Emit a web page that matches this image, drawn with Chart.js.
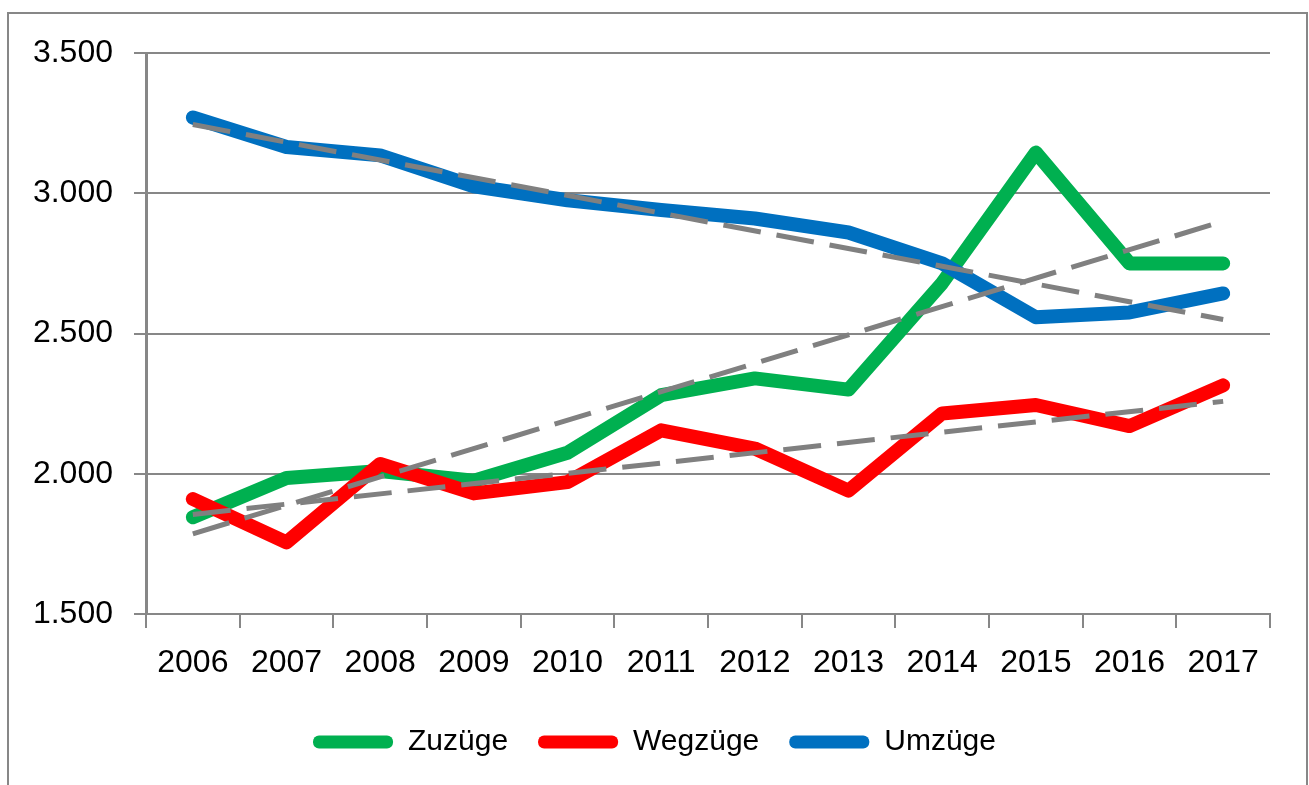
<!DOCTYPE html>
<html>
<head>
<meta charset="utf-8">
<script src="https://cdn.jsdelivr.net/npm/chart.js@4"></script>
<style>
  body { margin: 0; background: #fff; }
  #wrap { width: 1309px; height: 785px; position: relative; }
</style>
</head>
<body>
<div id="wrap"><canvas id="chart"></canvas></div>
<script>
const years = ['2006', '2007', '2008', '2009', '2010', '2011', '2012', '2013', '2014', '2015', '2016', '2017'];
const zuzuege = [1845, 1985, 2010, 1975, 2075, 2280, 2340, 2300, 2680, 3145, 2750, 2750];
const wegzuege = [1910, 1755, 2035, 1930, 1970, 2155, 2090, 1940, 2215, 2245, 2170, 2315];
const umzuege = [3270, 3165, 3135, 3025, 2975, 2940, 2910, 2860, 2750, 2558, 2575, 2643];

// trend lines, read at first and last year
const trendZuzuege = [1786, null, null, null, null, null, null, null, null, null, null, 2900];
const trendWegzuege = [1855, null, null, null, null, null, null, null, null, null, null, 2258];
const trendUmzuege = [3245, null, null, null, null, null, null, null, null, null, null, 2550];

const gridColor = '#878787';

function fmt(v) {
    return String(v).replace(/\B(?=(\d{3})+(?!\d))/g, '.');
}

function seriesDs(label, data, color, order) {
    return {
        label: label,
        data: data,
        borderColor: color,
        backgroundColor: color,
        borderWidth: 14,
        borderJoinStyle: 'round',
        borderCapStyle: 'round',
        pointRadius: 0,
        tension: 0,
        order: order
    };
}

function trendDs(data) {
    return {
        label: 'trend',
        data: data,
        borderColor: '#808080',
        borderWidth: 5,
        borderDash: [38, 16],
        pointRadius: 0,
        spanGaps: true,
        order: 0
    };
}

const frame = {
    id: 'frame',
    afterDraw(chart) {
        const ctx = chart.ctx;
        ctx.save();
        ctx.strokeStyle = gridColor;
        ctx.lineWidth = 2;
        ctx.beginPath();
        ctx.moveTo(8, 800);
        ctx.lineTo(8, 13);
        ctx.lineTo(1307, 13);
        ctx.lineTo(1307, 800);
        ctx.stroke();
        ctx.restore();
    }
};

new Chart(document.getElementById('chart'), {
    type: 'line',
    data: {
        labels: years,
        datasets: [
            seriesDs('Zuzüge', zuzuege, '#00B050', 3),
            seriesDs('Wegzüge', wegzuege, '#FF0000', 2),
            seriesDs('Umzüge', umzuege, '#0070C0', 1),
            trendDs(trendZuzuege),
            trendDs(trendWegzuege),
            trendDs(trendUmzuege)
        ]
    },
    options: {
        responsive: true,
        maintainAspectRatio: false,
        animation: false,
        layout: { padding: { top: 53, bottom: 18, left: 0, right: 0 } },
        plugins: {
            tooltip: { enabled: false },
            legend: {
                position: 'bottom',
                labels: {
                    filter: item => item.text !== 'trend',
                    sort: (a, b) => a.datasetIndex - b.datasetIndex,
                    boxWidth: 80,
                    boxHeight: 13,
                    useBorderRadius: true,
                    borderRadius: 6,
                    padding: 30,
                    color: '#000',
                    font: { family: 'Liberation Sans', size: 30 },
                    generateLabels(chart) {
                        const items = Chart.defaults.plugins.legend.labels.generateLabels(chart);
                        items.forEach(it => { it.lineWidth = 0; });
                        return items;
                    }
                }
            }
        },
        scales: {
            x: {
                offset: true,
                grid: {
                    offset: true,
                    drawOnChartArea: false,
                    drawTicks: true,
                    tickLength: 14,
                    color: gridColor,
                    lineWidth: 2
                },
                border: { color: gridColor, width: 2 },
                ticks: {
                    color: '#000',
                    padding: 16,
                    maxRotation: 0,
                    font: { family: 'Liberation Sans', size: 32 }
                },
                afterFit(scale) { scale.height = 83; }
            },
            y: {
                min: 1500,
                max: 3500,
                grid: {
                    color: gridColor,
                    lineWidth: 2,
                    tickLength: 12
                },
                border: { color: gridColor, width: 3 },
                ticks: {
                    stepSize: 500,
                    color: '#000',
                    padding: 21,
                    font: { family: 'Liberation Sans', size: 32 },
                    callback: v => fmt(v)
                },
                afterFit(scale) { scale.width = 146; }
            },
            yRight: {
                position: 'right',
                display: true,
                grid: { drawOnChartArea: false, drawTicks: false },
                border: { display: false },
                ticks: { display: false },
                afterFit(scale) { scale.width = 39; }
            }
        }
    },
    plugins: [frame]
});
</script>
</body>
</html>
